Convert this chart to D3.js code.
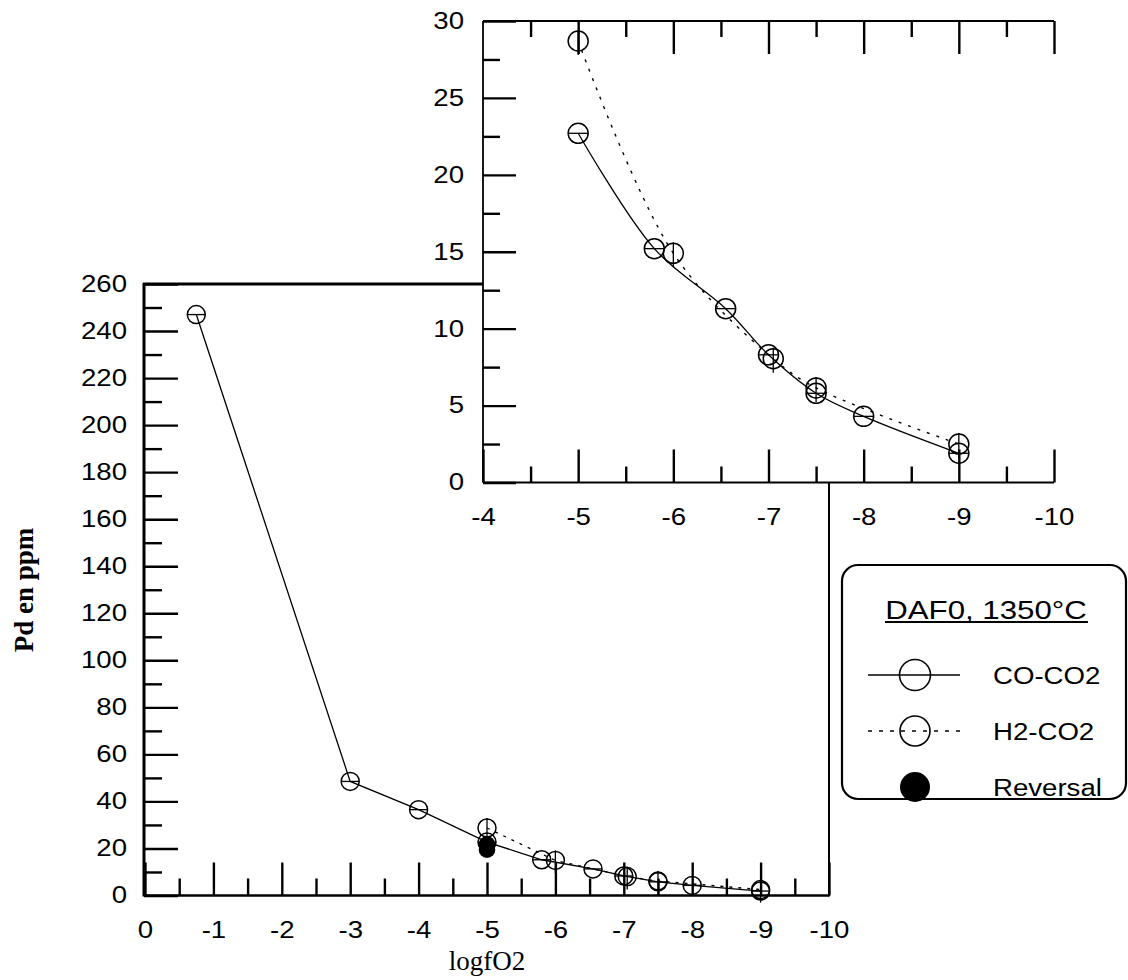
<!DOCTYPE html>
<html><head><meta charset="utf-8">
<script src="https://cdn.jsdelivr.net/npm/d3@7"></script>
<style>body{margin:0;background:#fff}svg{display:block}</style>
</head><body><svg id="c" width="1128" height="980"></svg>
<script>
// ---- data ----
const coX = [-0.75, -3, -4, -5, -5.8, -6.55, -7, -7.5, -8, -9];
const coY = [247, 48.5, 36.5, 22.7, 15.2, 11.3, 8.3, 5.8, 4.3, 1.9];
const h2X = [-5, -6, -7.05, -7.5, -9];
const h2Y = [28.7, 14.9, 8.05, 6.15, 2.5];
const revX = [-5, -5];
const revY = [21.7, 19.5];
const mainXTicks = [0, -1, -2, -3, -4, -5, -6, -7, -8, -9, -10];
const mainXMinor = [-0.5, -1.5, -2.5, -3.5, -4.5, -5.5, -6.5, -7.5, -8.5, -9.5];
const mainYTicks = [0, 20, 40, 60, 80, 100, 120, 140, 160, 180, 200, 220, 240, 260];
const mainYMinor = [10, 30, 50, 70, 90, 110, 130, 150, 170, 190, 210, 230, 250];
const insetXTicks = [-4, -5, -6, -7, -8, -9, -10];
const insetXMinor = [-4.5, -5.5, -6.5, -7.5, -8.5, -9.5];
const insetYTicks = [0, 5, 10, 15, 20, 25, 30];
const insetYMinor = [2.5, 7.5, 12.5, 17.5, 22.5, 27.5];
const legendTitle = "DAF0, 1350°C";
const legendLabels = ["CO-CO2", "H2-CO2", "Reversal"];
const xTitle = "logfO2";
const yTitle = "Pd en ppm";

const co = coX.map((x, i) => ({x, y: coY[i]}));
const h2 = h2X.map((x, i) => ({x, y: h2Y[i]}));
const rev = revX.map((x, i) => ({x, y: revY[i]}));

const svg = d3.select("#c");
svg.append("rect").attr("width", 1128).attr("height", 980).attr("fill", "#fff");

const SANS = "'Liberation Sans', Arial, sans-serif";
const SERIF = "'Liberation Serif', 'Times New Roman', serif";
const STRETCH = 1.2;

// ---- scales ----
const mx = d3.scaleLinear().domain([0, -10]).range([145, 829]);
const my = d3.scaleLinear().domain([0, 260]).range([895.5, 284]);
const ix = d3.scaleLinear().domain([-4, -10]).range([483, 1054]);
const iy = d3.scaleLinear().domain([0, 30]).range([482.5, 21]);

function styleAxis(g, labels) {
  g.select(".domain").remove();
  g.selectAll(".tick line").attr("stroke", "#000").attr("stroke-width", 2.4);
  g.selectAll("text").attr("fill", "#000").attr("font-family", SANS)
    .attr("font-size", 23).classed("stretch", labels);
}
const fmt = d => d3.format("d")(d).replace("−", "-");

// ---- main plot axes ----
const gm = svg.append("g");
gm.append("g").attr("transform", `translate(0,${my(0)})`)
  .call(d3.axisBottom(mx).tickValues(mainXTicks).tickSizeInner(-33).tickSizeOuter(0).tickPadding(26).tickFormat(fmt))
  .call(g => styleAxis(g, true));
gm.append("g").attr("transform", `translate(0,${my(0)})`)
  .call(d3.axisBottom(mx).tickValues(mainXMinor).tickSizeInner(-17).tickSizeOuter(0).tickFormat(""))
  .call(g => styleAxis(g, false));
gm.append("g").attr("transform", `translate(${mx(0) - 1},0)`)
  .call(d3.axisLeft(my).tickValues(mainYTicks).tickSizeInner(-34).tickSizeOuter(0).tickPadding(17).tickFormat(fmt))
  .call(g => styleAxis(g, true));
gm.append("g").attr("transform", `translate(${mx(0) - 1},0)`)
  .call(d3.axisLeft(my).tickValues(mainYMinor).tickSizeInner(-18).tickSizeOuter(0).tickFormat(""))
  .call(g => styleAxis(g, false));

// main frame
gm.append("line").attr("x1", mx(0) - 1).attr("x2", mx(0) - 1).attr("y1", my(260) - 1).attr("y2", my(0) + 1)
  .attr("stroke", "#000").attr("stroke-width", 3);
gm.append("line").attr("x1", mx(0) - 1).attr("x2", mx(-10)).attr("y1", my(0)).attr("y2", my(0))
  .attr("stroke", "#000").attr("stroke-width", 2.6);
gm.append("line").attr("x1", mx(0) - 2).attr("x2", ix(-4)).attr("y1", my(260)).attr("y2", my(260))
  .attr("stroke", "#000").attr("stroke-width", 3);
gm.append("line").attr("x1", mx(-10)).attr("x2", mx(-10)).attr("y1", iy(0)).attr("y2", my(0) + 1)
  .attr("stroke", "#000").attr("stroke-width", 2);

// ---- inset axes ----
const gi = svg.append("g");
gi.append("g").attr("transform", `translate(0,${iy(0)})`)
  .call(d3.axisBottom(ix).tickValues(insetXTicks).tickSizeInner(-33).tickSizeOuter(0).tickPadding(26).tickFormat(fmt))
  .call(g => styleAxis(g, true));
gi.append("g").attr("transform", `translate(0,${iy(0)})`)
  .call(d3.axisBottom(ix).tickValues(insetXMinor).tickSizeInner(-16).tickSizeOuter(0).tickFormat(""))
  .call(g => styleAxis(g, false));
gi.append("g").attr("transform", `translate(0,${iy(30)})`)
  .call(d3.axisTop(ix).tickValues(insetXTicks.slice(1)).tickSizeInner(-33).tickSizeOuter(0).tickFormat(""))
  .call(g => styleAxis(g, false));
gi.append("g").attr("transform", `translate(0,${iy(30)})`)
  .call(d3.axisTop(ix).tickValues(insetXMinor).tickSizeInner(-16).tickSizeOuter(0).tickFormat(""))
  .call(g => styleAxis(g, false));
gi.append("g").attr("transform", `translate(${ix(-4)},0)`)
  .call(d3.axisLeft(iy).tickValues(insetYTicks).tickSizeInner(-33).tickSizeOuter(0).tickPadding(19).tickFormat(fmt))
  .call(g => styleAxis(g, true));
gi.append("g").attr("transform", `translate(${ix(-4)},0)`)
  .call(d3.axisLeft(iy).tickValues(insetYMinor).tickSizeInner(-17).tickSizeOuter(0).tickFormat(""))
  .call(g => styleAxis(g, false));
gi.append("line").attr("x1", ix(-4)).attr("x2", ix(-4)).attr("y1", iy(30)).attr("y2", iy(0))
  .attr("stroke", "#000").attr("stroke-width", 1.8);
gi.append("line").attr("x1", ix(-4)).attr("x2", ix(-10)).attr("y1", iy(30)).attr("y2", iy(30))
  .attr("stroke", "#000").attr("stroke-width", 2);
gi.append("line").attr("x1", ix(-4)).attr("x2", ix(-10)).attr("y1", iy(0)).attr("y2", iy(0))
  .attr("stroke", "#000").attr("stroke-width", 2);

// ---- markers ----
function openMarker(g, cx, cy, r, kind) {
  g.append("circle").attr("cx", cx).attr("cy", cy).attr("r", r)
    .attr("fill", "none").attr("stroke", "#000").attr("stroke-width", 1.5);
  if (kind === "co") {
    g.append("line").attr("x1", cx - r).attr("x2", cx + r).attr("y1", cy).attr("y2", cy)
      .attr("stroke", "#000").attr("stroke-width", 1.3);
  } else {
    g.append("line").attr("x1", cx).attr("x2", cx).attr("y1", cy - r - 1).attr("y2", cy + r + 4)
      .attr("stroke", "#000").attr("stroke-width", 1.3);
  }
}

// ---- main data ----
const lineM = d3.line().x(d => mx(d.x)).y(d => my(d.y));
gm.append("path").attr("d", lineM(co)).attr("fill", "none").attr("stroke", "#000").attr("stroke-width", 1.3);
gm.append("path").attr("d", lineM(h2)).attr("fill", "none").attr("stroke", "#000").attr("stroke-width", 1.3)
  .attr("stroke-dasharray", "3,6");
co.forEach(d => openMarker(gm, mx(d.x), my(d.y), 9, "co"));
h2.forEach(d => openMarker(gm, mx(d.x), my(d.y), 9, "h2"));
gm.selectAll(".rev").data(rev).join("circle").attr("class", "rev")
  .attr("cx", d => mx(d.x)).attr("cy", d => my(d.y)).attr("r", 8.3).attr("fill", "#000");

// ---- inset data ----
const inCo = co.filter(d => d.x <= -5);
const lineI = d3.line().x(d => ix(d.x)).y(d => iy(d.y)).curve(d3.curveCatmullRom.alpha(0.5));
gi.append("path").attr("d", lineI(inCo)).attr("fill", "none").attr("stroke", "#000").attr("stroke-width", 1.3);
gi.append("path").attr("d", lineI(h2)).attr("fill", "none").attr("stroke", "#000").attr("stroke-width", 1.4)
  .attr("stroke-dasharray", "3,7");
inCo.forEach(d => openMarker(gi, ix(d.x), iy(d.y), 10, "co"));
h2.forEach(d => openMarker(gi, ix(d.x), iy(d.y), 10, "h2"));

// ---- axis titles ----
svg.append("text").attr("x", mx(-5)).attr("y", 970).attr("text-anchor", "middle")
  .attr("font-family", SERIF).attr("font-size", 27).text(xTitle);
svg.append("text").attr("transform", "translate(33,590) rotate(-90)").attr("text-anchor", "middle")
  .attr("font-family", SERIF).attr("font-size", 27).attr("font-weight", "bold").text(yTitle);

// ---- legend ----
const lg = svg.append("g");
lg.append("rect").attr("x", 842).attr("y", 565).attr("width", 284).attr("height", 234).attr("rx", 16)
  .attr("fill", "#fff").attr("stroke", "#000").attr("stroke-width", 2.2);
lg.append("text").attr("class", "stretch").attr("x", 986).attr("y", 619).attr("text-anchor", "middle")
  .attr("font-family", SANS).attr("font-size", 26).text(legendTitle);
lg.append("line").attr("x1", 885).attr("x2", 1088).attr("y1", 622).attr("y2", 622)
  .attr("stroke", "#000").attr("stroke-width", 2);
const rowsY = [675, 731, 787];
lg.append("line").attr("x1", 868).attr("x2", 960).attr("y1", rowsY[0]).attr("y2", rowsY[0])
  .attr("stroke", "#000").attr("stroke-width", 1.4);
lg.append("circle").attr("cx", 915).attr("cy", rowsY[0]).attr("r", 15.5).attr("fill", "none")
  .attr("stroke", "#000").attr("stroke-width", 1.6);
lg.append("line").attr("x1", 868).attr("x2", 962).attr("y1", rowsY[1]).attr("y2", rowsY[1])
  .attr("stroke", "#000").attr("stroke-width", 1.4).attr("stroke-dasharray", "4,7");
lg.append("circle").attr("cx", 915).attr("cy", rowsY[1]).attr("r", 15).attr("fill", "none")
  .attr("stroke", "#000").attr("stroke-width", 1.6);
lg.append("circle").attr("cx", 915).attr("cy", rowsY[2]).attr("r", 15).attr("fill", "#000");
legendLabels.forEach((t, i) => {
  lg.append("text").attr("class", "stretch").attr("x", 993).attr("y", rowsY[i] + 8.5)
    .attr("font-family", SANS).attr("font-size", 23).text(t);
});

// horizontal stretch of sans text (scan is wider than the font)
svg.selectAll("text.stretch").each(function () {
  const len = this.getComputedTextLength();
  d3.select(this).attr("textLength", len * STRETCH).attr("lengthAdjust", "spacingAndGlyphs");
});
</script></body></html>
